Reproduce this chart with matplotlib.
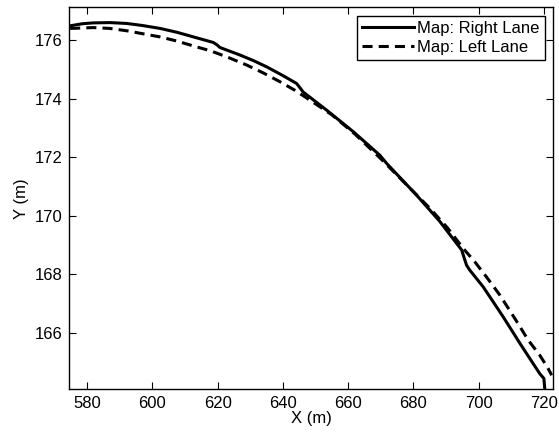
import matplotlib.pyplot as plt

plt.rcParams['font.family'] = ['Liberation Sans', 'DejaVu Sans']
plt.rcParams['font.size'] = 12

# lane centre lines from the map (metres)
right_x = [574.8, 578.5, 581.9, 587.0, 592.2, 597.0, 602.4, 607.5, 612.6,
           615.5, 618.7, 619.8, 620.7, 626.9, 631.0, 635.0, 640.0, 644.2,
           645.2, 646.2, 653.4, 661.6, 669.7, 671.8, 681.0, 688.0, 694.8,
           695.6, 696.3, 697.3, 701.4, 707.5, 713.0, 718.7, 720.0, 720.3]
right_y = [176.49, 176.56, 176.59, 176.60, 176.57, 176.50, 176.40, 176.27,
           176.11, 176.02, 175.92, 175.84, 175.75, 175.49, 175.30, 175.09,
           174.79, 174.52, 174.38, 174.23, 173.61, 172.87, 172.07, 171.79,
           170.70, 169.82, 168.83, 168.55, 168.31, 168.14, 167.57, 166.55,
           165.58, 164.61, 164.44, 164.05]

left_x = [574.8, 581.9, 587.0, 592.2, 597.0, 602.4, 607.5, 612.6, 617.7,
          622.8, 628.9, 634.0, 639.1, 643.8, 648.3, 655.0, 662.0, 670.0,
          678.0, 685.1, 690.5, 695.3, 698.8, 702.4, 706.5, 711.1, 715.2,
          718.7, 721.0, 722.4]
left_y = [176.40, 176.43, 176.40, 176.32, 176.22, 176.11, 175.97, 175.80,
          175.64, 175.43, 175.15, 174.88, 174.58, 174.28, 173.95, 173.45,
          172.80, 171.95, 171.05, 170.25, 169.58, 168.88, 168.43, 167.91,
          167.29, 166.49, 165.75, 165.24, 164.84, 164.55]

fig = plt.figure(figsize=(5.59, 4.34), dpi=100)
ax = fig.add_axes([0.1243, 0.103, 0.8650, 0.880])

ax.plot(right_x, right_y, color='black', lw=2.2, label='Map: Right Lane')
ax.plot(left_x, left_y, color='black', lw=2.2, dashes=(3.3, 2.0),
        label='Map: Left Lane')

ax.set_xlim(574.6, 722.8)
ax.set_ylim(164.07, 177.12)
ax.set_xticks(range(580, 721, 20))
ax.set_yticks(range(166, 177, 2))
ax.tick_params(direction='in', top=True, right=True, length=5, width=0.8,
               labelsize=12, pad=5)
for s in ax.spines.values():
    s.set_linewidth(1.0)

ax.set_xlabel('X (m)', labelpad=0)
ax.set_ylabel('Y (m)', labelpad=4)

leg = ax.legend(loc='upper right', fancybox=False, edgecolor='black',
                framealpha=1, handlelength=3.1, handletextpad=0.2,
                borderpad=0.3, labelspacing=0.25, borderaxespad=0.5,
                fontsize=12)
leg.get_frame().set_linewidth(1.0)

fig.savefig('out.png', dpi=100)
